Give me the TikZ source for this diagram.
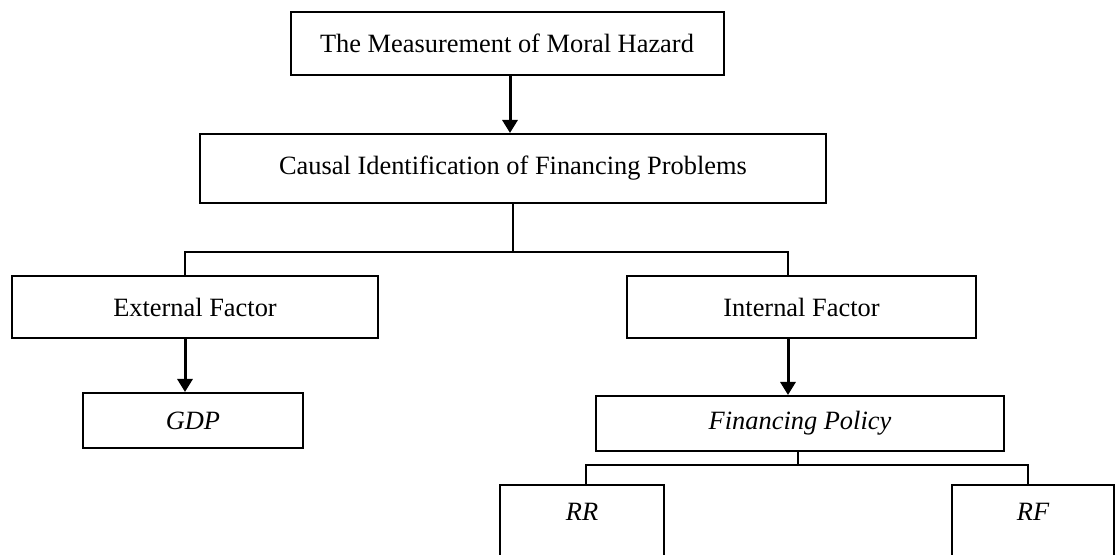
\documentclass[tikz,border=0pt]{standalone}
\usepackage{fontspec}
\setmainfont{Liberation Serif}
\usetikzlibrary{arrows.meta}
\begin{document}
\begin{tikzpicture}[x=0.5pt,y=-0.5pt,
  box/.style={draw=black,line width=1pt,rectangle,inner sep=0pt,
    font=\fontsize{13.2pt}{15pt}\selectfont},
  conn/.style={draw=black,line width=1pt},
  arr/.style={draw=black,line width=1.5pt,-{Triangle[length=6.5pt,width=7.5pt]}},
  tallbox/.style={box,anchor=north,inner ysep=0pt,text height=17.9pt,text depth=60pt}]
\useasboundingbox (0,0) rectangle (1116,555);
\node[box,minimum width=216.5pt,minimum height=31.5pt] (m) at (507,43.5) {The Measurement of Moral Hazard};
\node[box,minimum width=313pt,minimum height=34.5pt] (c) at (513,168.5) {Causal Identification of Financing Problems};
\node[box,minimum width=183pt,minimum height=31pt] (ext) at (195,307) {External Factor};
\node[box,minimum width=174.5pt,minimum height=31pt] (int) at (801.5,307) {Internal Factor};
\node[box,minimum width=110pt,minimum height=27.5pt] (gdp) at (193,420.5) {\itshape GDP};
\node[box,minimum width=204pt,minimum height=27.5pt] (fp) at (800,423.5) {\itshape Financing Policy};
\node[tallbox,minimum width=82pt] (rr) at (582,484) {\itshape RR};
\node[tallbox,minimum width=81pt] (rf) at (1033,484) {\itshape RF};
\coordinate (a1) at (510,0);
\coordinate (jl) at (185,252);
\coordinate (jr) at (788,252);
\coordinate (km) at (798,465);
\coordinate (kl) at (586,465);
\coordinate (kr) at (1028,465);
\draw[arr] (m.south -| a1) -- (c.north -| a1);
\draw[conn] (c.south) -- (c.south |- jl);
\draw[conn] (jl |- ext.north) -- (jl) -- (jr) -- (jr |- int.north);
\draw[arr] (jl |- ext.south) -- (jl |- gdp.north);
\draw[arr] (jr |- int.south) -- (jr |- fp.north);
\draw[conn] (fp.south -| km) -- (km);
\draw[conn] (kl |- rr.north) -- (kl) -- (kr) -- (kr |- rf.north);
\end{tikzpicture}
\end{document}
